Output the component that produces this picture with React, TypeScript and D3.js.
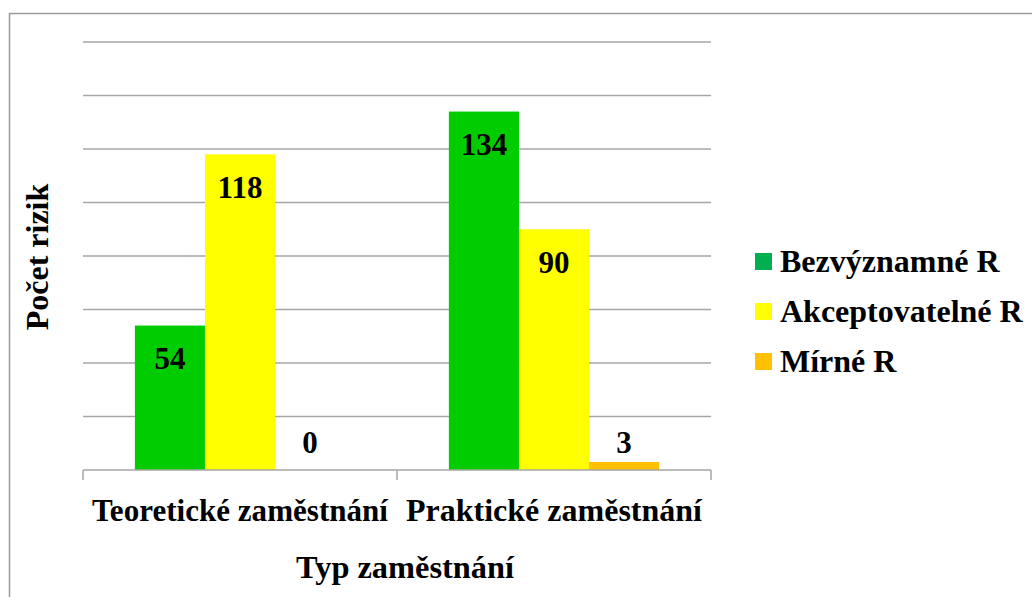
import React, { useRef, useEffect } from "react";
import * as d3 from "d3";

// data
const categories = ["Teoretické zaměstnání", "Praktické zaměstnání"];
const seriesNames = ["Bezvýznamné R", "Akceptovatelné R", "Mírné R"];
const bezvyznamne = [54, 134];
const akceptovatelne = [118, 90];
const mirne = [0, 3];
const yTicks = [0, 20, 40, 60, 80, 100, 120, 140, 160];

const barColors = ["#00CC00", "#FFFF00", "#FFC000"];
const legendColors = ["#00B050", "#FFFF00", "#FFC000"];

function App() {
  const svgRef = useRef<SVGSVGElement>(null);

  useEffect(() => {
    const svg = d3.select(svgRef.current);
    svg.selectAll("*").remove();
    const font = "Liberation Serif";

    const left = 83, right = 711, top = 42, bottom = 470;
    const series = [bezvyznamne, akceptovatelne, mirne];

    // ramecek
    svg.append("rect")
      .attr("x", 9.5).attr("y", 13.5)
      .attr("width", 1040).attr("height", 600)
      .attr("fill", "none").attr("stroke", "#999").attr("stroke-width", 1.5);

    const x0 = d3.scaleBand().domain(categories).range([left, right]).paddingInner(0).paddingOuter(0);
    const x1 = d3.scaleBand().domain(seriesNames).range([0, x0.bandwidth()]).paddingInner(0).paddingOuter(0.74);
    const y = d3.scaleLinear().domain([0, 160]).range([bottom, top]);

    // mrizka
    svg.append("g")
      .selectAll("line")
      .data(yTicks.slice(1))
      .join("line")
      .attr("x1", left).attr("x2", right)
      .attr("y1", d => y(d)).attr("y2", d => y(d))
      .attr("stroke", "#A6A6A6").attr("stroke-width", 1.5);

    // sloupce
    const groups = svg.append("g")
      .selectAll("g")
      .data(categories)
      .join("g")
      .attr("transform", d => `translate(${x0(d)},0)`);

    groups.selectAll("rect")
      .data((c, ci) => seriesNames.map((s, si) => ({ s, si, v: series[si][ci] })))
      .join("rect")
      .attr("x", d => x1(d.s)!)
      .attr("width", x1.bandwidth())
      .attr("y", d => y(d.v))
      .attr("height", d => y(0) - y(d.v))
      .attr("fill", d => barColors[d.si]);

    groups.selectAll("text")
      .data((c, ci) => seriesNames.map((s, si) => ({ s, si, v: series[si][ci] })))
      .join("text")
      .attr("x", d => x1(d.s)! + x1.bandwidth() / 2)
      .attr("y", d => Math.min(y(d.v) + 33, y(0) - 28))
      .attr("dy", "0.35em")
      .attr("text-anchor", "middle")
      .attr("font-family", font).attr("font-weight", "bold").attr("font-size", 31)
      .attr("fill", "#000")
      .text(d => d.v);

    // osa x
    const xa = svg.append("g");
    xa.append("line")
      .attr("x1", left).attr("x2", right)
      .attr("y1", bottom).attr("y2", bottom)
      .attr("stroke", "#A6A6A6").attr("stroke-width", 1.5);
    const bounds = [left, ...categories.map(c => x0(c)! + x0.bandwidth())];
    xa.selectAll("line.tick")
      .data(bounds)
      .join("line")
      .attr("class", "tick")
      .attr("x1", d => d).attr("x2", d => d)
      .attr("y1", bottom).attr("y2", bottom + 10)
      .attr("stroke", "#A6A6A6").attr("stroke-width", 1.5);

    xa.selectAll("text")
      .data(categories)
      .join("text")
      .attr("x", d => x0(d)! + x0.bandwidth() / 2)
      .attr("y", 521)
      .attr("text-anchor", "middle")
      .attr("font-family", font).attr("font-weight", "bold").attr("font-size", 31)
      .attr("textLength", 296)
      .attr("lengthAdjust", "spacingAndGlyphs")
      .text(d => d);

    // popisky os
    svg.append("text")
      .attr("x", 405).attr("y", 578)
      .attr("text-anchor", "middle")
      .attr("font-family", font).attr("font-weight", "bold").attr("font-size", 31)
      .attr("textLength", 218)
      .attr("lengthAdjust", "spacingAndGlyphs")
      .text("Typ zaměstnání");

    svg.append("text")
      .attr("transform", "translate(48,257) rotate(-90)")
      .attr("text-anchor", "middle")
      .attr("font-family", font).attr("font-weight", "bold").attr("font-size", 32)
      .text("Počet rizik");

    // legenda
    const legend = svg.append("g")
      .selectAll("g")
      .data(seriesNames)
      .join("g")
      .attr("transform", (d, i) => `translate(755,${261 + i * 50})`);
    legend.append("rect")
      .attr("x", 0).attr("y", -8)
      .attr("width", 17).attr("height", 17)
      .attr("fill", (d, i) => legendColors[i]);
    legend.append("text")
      .attr("x", 25).attr("y", 0)
      .attr("dy", "0.35em")
      .attr("font-family", font).attr("font-weight", "bold").attr("font-size", 32)
      .text(d => d);
  }, []);

  return (
    <svg
      ref={svgRef}
      width={1032}
      height={597}
      style={{ position: "absolute", left: 0, top: 0, background: "#fff" }}
    />
  );
}

export default App;
